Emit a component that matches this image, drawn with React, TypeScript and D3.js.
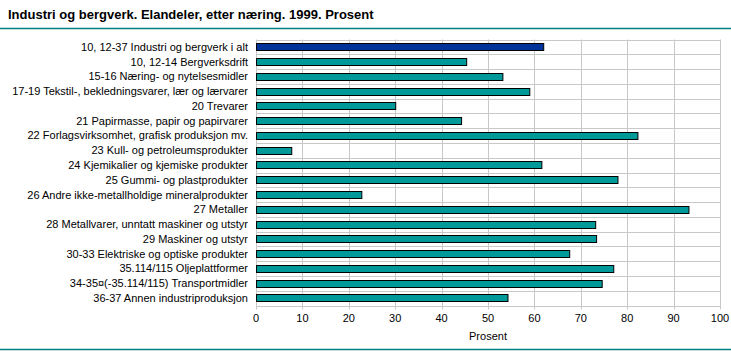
import React from "react";
import * as d3 from "d3";

const categories = [
  "10, 12-37 Industri og bergverk i alt",
  "10, 12-14 Bergverksdrift",
  "15-16 Næring- og nytelsesmidler",
  "17-19 Tekstil-, bekledningsvarer, lær og lærvarer",
  "20 Trevarer",
  "21 Papirmasse, papir og papirvarer",
  "22 Forlagsvirksomhet, grafisk produksjon mv.",
  "23 Kull- og petroleumsprodukter",
  "24 Kjemikalier og kjemiske produkter",
  "25 Gummi- og plastprodukter",
  "26 Andre ikke-metallholdige mineralprodukter",
  "27 Metaller",
  "28 Metallvarer, unntatt maskiner og utstyr",
  "29 Maskiner og utstyr",
  "30-33 Elektriske og optiske produkter",
  "35.114/115 Oljeplattformer",
  "34-35¤(-35.114/115) Transportmidler",
  "36-37 Annen industriproduksjon",
];
const values = [61.9, 45.3, 53.1, 58.9, 30.0, 44.2, 82.2, 7.6, 61.5, 77.9, 22.7, 93.2, 73.1, 73.3, 67.5, 77.0, 74.5, 54.2];
const xTicks = [0, 10, 20, 30, 40, 50, 60, 70, 80, 90, 100];
const title = "Industri og bergverk. Elandeler, etter næring. 1999. Prosent";
const xLabel = "Prosent";

export default function App() {
  const W = 731, H = 351;
  const left = 256, right = 720, top = 39.5, bottom = 305.5;
  const x = d3.scaleLinear().domain([0, 100]).range([left, right]);
  const y = d3.scaleBand<string>().domain(categories).range([top, bottom]).paddingInner(0.5).paddingOuter(0.25);
  const band = (bottom - top) / categories.length;
  const font = "Tahoma, 'Liberation Sans', Arial, sans-serif";
  return (
    <svg width={W} height={H} style={{ position: "absolute", left: 0, top: 0, background: "#fff" }} fontFamily={font}>
      <text x={8} y={19} fontSize={13} fontWeight="bold" fill="#000">{title}</text>
      <line x1={0} x2={W} y1={28.5} y2={28.5} stroke="#008080" strokeWidth={1.5} />
      {/* grid */}
      {xTicks.map((t) => (
        <line key={"gx" + t} x1={Math.round(x(t)) + 0.5} x2={Math.round(x(t)) + 0.5} y1={top} y2={bottom + 4} stroke="#c8c8c8" />
      ))}
      {d3.range(categories.length + 1).map((i) => (
        <line key={"gy" + i} x1={left} x2={right} y1={Math.round(top + i * band) + 0.5} y2={Math.round(top + i * band) + 0.5} stroke="#c8c8c8" />
      ))}
      {categories.map((c, i) => (
        <g key={c}>
          <rect
            x={x(0) + 0.5}
            y={Math.round(y(c)!) + 0.5}
            width={x(values[i]) - x(0)}
            height={Math.round(y.bandwidth())}
            fill={i === 0 ? "#003399" : "#009999"}
            stroke="#000"
            strokeWidth={1}
          />
          <text x={248} y={y(c)! + y.bandwidth() / 2} dy="0.35em" textAnchor="end" fontSize={11} fill="#000">{c}</text>
        </g>
      ))}
      {xTicks.map((t) => (
        <text key={"tx" + t} x={x(t)} y={322} textAnchor="middle" fontSize={11} fill="#000">{t}</text>
      ))}
      <text x={(left + right) / 2} y={340} textAnchor="middle" fontSize={11} fill="#000">{xLabel}</text>
      <line x1={0} x2={W} y1={349.5} y2={349.5} stroke="#008080" strokeWidth={1.5} />
    </svg>
  );
}
